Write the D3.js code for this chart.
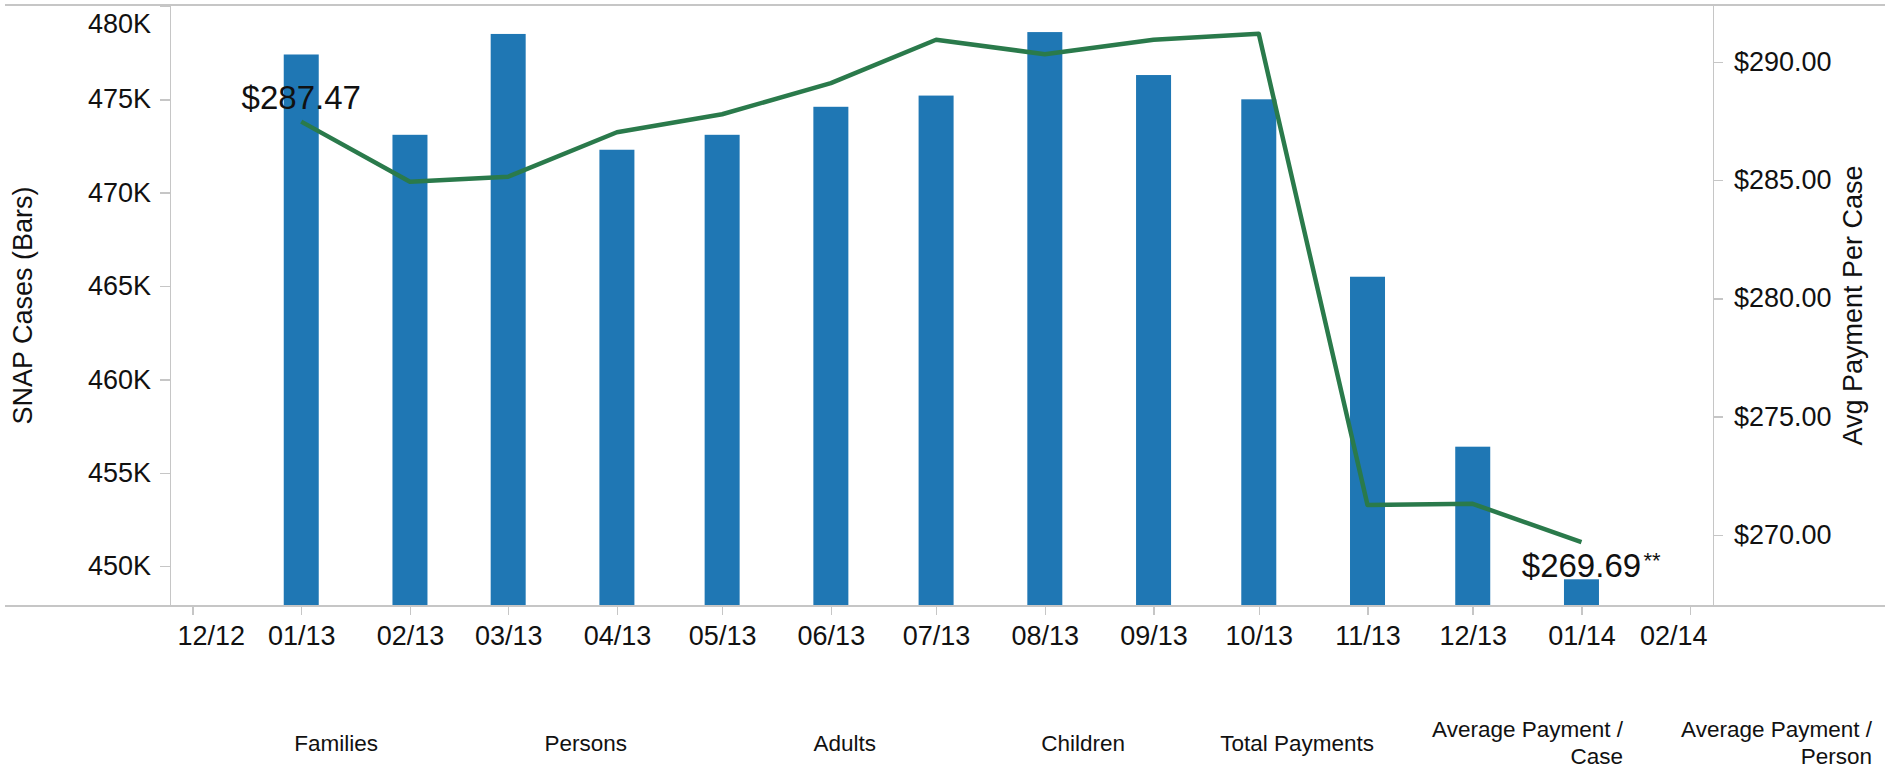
<!DOCTYPE html>
<meta charset="utf-8">
<script src="https://d3js.org/d3.v7.min.js"></script>

<style>
    body { margin: 0; background: #fff; }
    text { font-family: "Liberation Sans", Arial, sans-serif; fill: #111; }
    .axis path, .axis line { stroke: #c6c6c6; stroke-width: 1.5; shape-rendering: crispEdges; }
    .axis text { font-size: 27px; fill: #111; }
    .frame { stroke: #c6c6c6; stroke-width: 1.5; shape-rendering: crispEdges; }
</style>

<div id="vis"></div>

<script>
    // data
    var months = ["2013-01", "2013-02", "2013-03", "2013-04", "2013-05", "2013-06", "2013-07",
                  "2013-08", "2013-09", "2013-10", "2013-11", "2013-12", "2014-01"]
    var snapCases = [477400, 473100, 478500, 472300, 473100, 474600, 475200,
                     478600, 476300, 475000, 465500, 456400, 449300]
    var avgPayment = [287.47, 284.93, 285.14, 287.02, 287.78, 289.10, 290.93,
                      290.32, 290.93, 291.18, 271.26, 271.31, 269.69]
    var categories = ["Families", "Persons", "Adults", "Children", "Total Payments",
                      "Average Payment / Case", "Average Payment / Person"]
    var leftTicks = [450000, 455000, 460000, 465000, 470000, 475000, 480000]
    var rightTicks = [270, 275, 280, 285, 290]

    var width = 1885, height = 770
    var plotTop = 5, plotBottom = 606, plotLeft = 170, plotRight = 1713

    var barColor = "#1f77b4"
    var lineColor = "#2a7a4b"

    var parse = d3.timeParse("%Y-%m")
    var data = months.map(function (m, i) {
        return { date: parse(m), cases: snapCases[i], avg: avgPayment[i] }
    })

    var svg = d3.select("#vis")
        .append("svg")
        .attr("width", width)
        .attr("height", height)

    // scales
    var x = d3.scaleTime()
        .domain([new Date(2012, 10, 24, 14), new Date(2014, 1, 7, 12)])
        .range([plotLeft, plotRight])
    var y = d3.scaleLinear().domain([447870, 480050]).range([plotBottom, plotTop])
    var yR = d3.scaleLinear().domain([266.99, 292.40]).range([plotBottom, plotTop])

    // frame line on top
    svg.append("line").attr("class", "frame")
        .attr("x1", 5).attr("x2", width).attr("y1", plotTop).attr("y2", plotTop)

    // bars
    var barW = 35
    svg.append("g")
        .selectAll("rect")
        .data(data)
        .enter()
        .append("rect")
        .attr("x", function (d) { return x(d.date) - barW / 2 })
        .attr("y", function (d) { return y(d.cases) })
        .attr("width", barW)
        .attr("height", function (d) { return plotBottom - y(d.cases) })
        .attr("fill", barColor)

    // left axis
    var gLeft = svg.append("g")
        .attr("class", "axis")
        .attr("transform", "translate(" + plotLeft + ",0)")
        .call(d3.axisLeft(y).tickValues(leftTicks).tickSize(10).tickSizeOuter(0).tickPadding(9)
            .tickFormat(function (d) { return d / 1000 + "K" }))
    gLeft.selectAll(".tick text")
        .filter(function (d) { return d === 480000 })
        .attr("dy", "1.0em")

    // right axis
    svg.append("g")
        .attr("class", "axis")
        .attr("transform", "translate(" + plotRight + ",0)")
        .call(d3.axisRight(yR).tickValues(rightTicks).tickSize(10).tickSizeOuter(0).tickPadding(11)
            .tickFormat(d3.format("$.2f")))

    // bottom axis
    svg.append("line").attr("class", "frame")
        .attr("x1", 5).attr("x2", width).attr("y1", plotBottom).attr("y2", plotBottom)

    var gBottom = svg.append("g")
        .attr("class", "axis")
        .attr("transform", "translate(0," + plotBottom + ")")
        .call(d3.axisBottom(x).ticks(d3.timeMonth.every(1)).tickSize(9).tickPadding(11)
            .tickFormat(d3.timeFormat("%m/%y")))
    gBottom.select(".domain").remove()

    // keep the first and last tick labels inside the plot
    var tickTexts = gBottom.selectAll(".tick text")
    var nTicks = tickTexts.size()
    tickTexts.each(function (d, i) {
        if (i === 0) {
            d3.select(this).attr("text-anchor", "start").attr("x", plotLeft + 7 - x(d))
        } else if (i === nTicks - 1) {
            d3.select(this).attr("text-anchor", "end").attr("x", plotRight - 6 - x(d))
        }
    })

    // line for avg payment
    var line = d3.line()
        .x(function (d) { return x(d.date) })
        .y(function (d) { return yR(d.avg) })

    svg.append("path")
        .datum(data)
        .attr("d", line)
        .attr("fill", "none")
        .attr("stroke", lineColor)
        .attr("stroke-width", 4.5)
        .attr("stroke-linejoin", "round")

    // first and last value labels
    var first = data[0], last = data[data.length - 1]
    svg.append("text")
        .attr("x", x(first.date))
        .attr("y", yR(first.avg) - 13)
        .attr("text-anchor", "middle")
        .style("font-size", "33px")
        .text(d3.format("$.2f")(first.avg))

    svg.append("text")
        .attr("x", x(last.date))
        .attr("y", yR(last.avg) + 35)
        .attr("text-anchor", "middle")
        .style("font-size", "33px")
        .text(d3.format("$.2f")(last.avg))

    svg.append("text")
        .attr("x", x(last.date) + 62)
        .attr("y", yR(last.avg) + 26)
        .style("font-size", "22px")
        .text("**")

    // axis titles
    svg.append("text")
        .attr("transform", "translate(32," + (plotTop + plotBottom) / 2 + ") rotate(-90)")
        .attr("text-anchor", "middle")
        .style("font-size", "27px")
        .text("SNAP Cases (Bars)")

    svg.append("text")
        .attr("transform", "translate(1862," + (plotTop + plotBottom) / 2 + ") rotate(-90)")
        .attr("text-anchor", "middle")
        .style("font-size", "27px")
        .text("Avg Payment Per Case")

    // category header row along the bottom
    var band = d3.scaleBand().domain(categories).range([130, 1873])

    var cat = svg.append("g")
        .selectAll("text")
        .data(categories)
        .enter()
        .append("text")
        .attr("text-anchor", "end")
        .style("font-size", "22.5px")
        .attr("x", function (d) { return band(d) + band.bandwidth() - 1 })
        .attr("y", function (d) { return d.indexOf(" / ") > -1 ? 737 : 751 })

    cat.each(function (d) {
        var parts = d.split(" / ")
        var t = d3.select(this)
        var xPos = band(d) + band.bandwidth() - 1
        if (parts.length === 1) {
            t.text(d)
        } else {
            t.append("tspan").attr("x", xPos).text(parts[0] + " /")
            t.append("tspan").attr("x", xPos).attr("dy", 26.6).text(parts[1])
        }
    })
</script>
